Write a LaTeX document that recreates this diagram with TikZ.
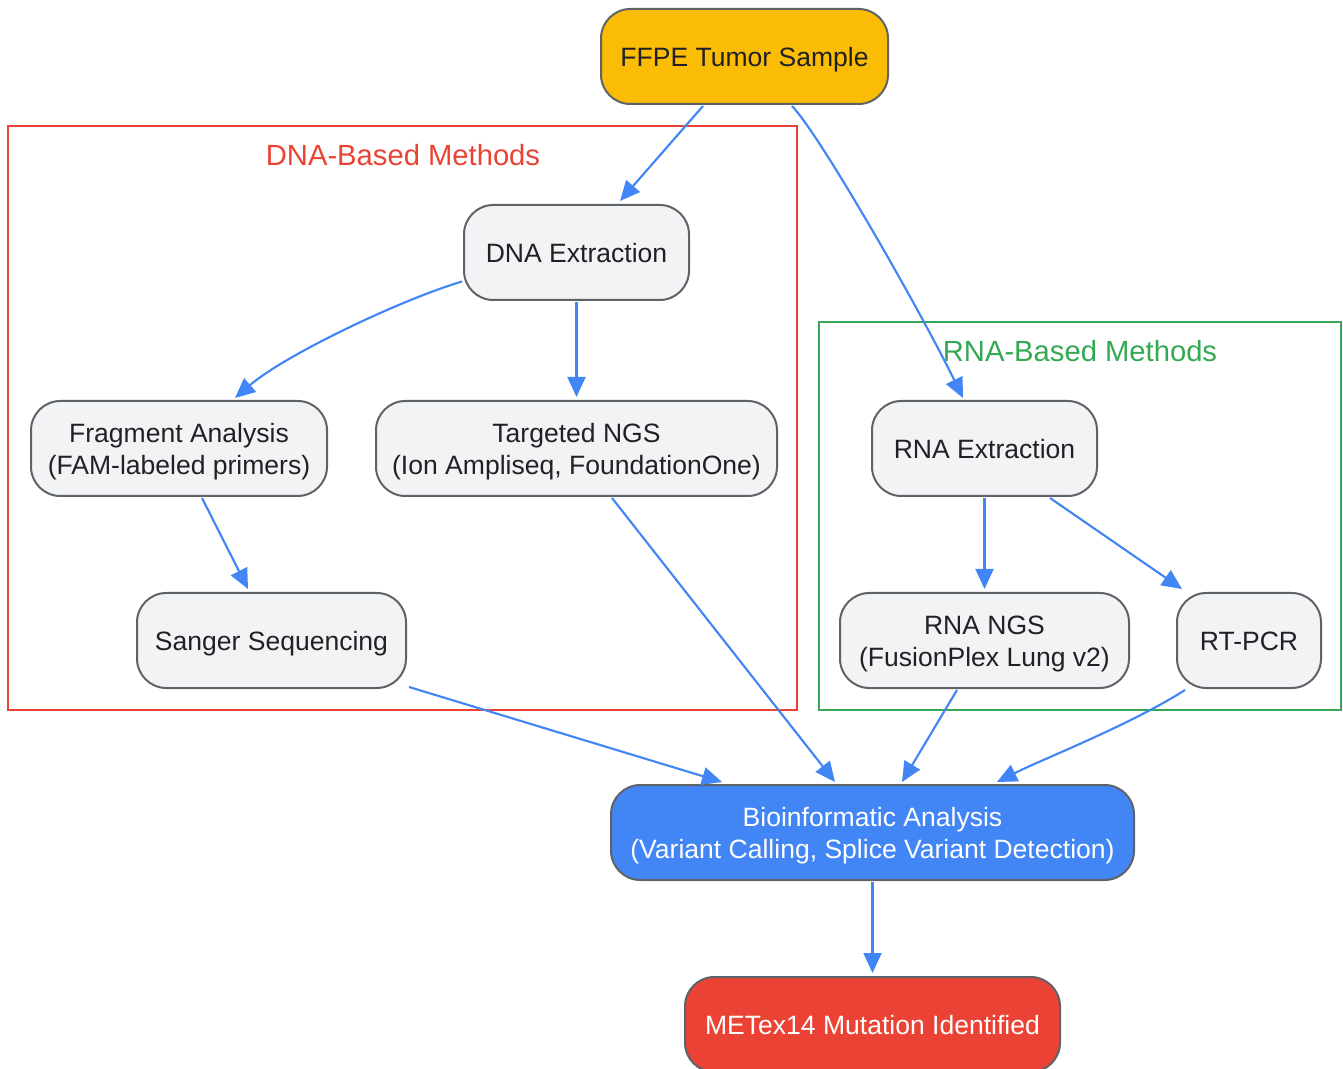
\documentclass[tikz,border=0pt]{standalone}
\usepackage{fontspec}
\setmainfont{Liberation Sans}
\usetikzlibrary{arrows.meta,calc}
\definecolor{nodefill}{HTML}{F1F3F4}
\definecolor{nodeborder}{HTML}{5F6368}
\definecolor{txt}{HTML}{202124}
\definecolor{gblue}{HTML}{4285F4}
\definecolor{gred}{HTML}{EA4335}
\definecolor{ggreen}{HTML}{34A853}
\definecolor{gyellow}{HTML}{FBBC05}
\newcommand\boxstrut{\rule[-4.2pt]{0pt}{23.2pt}}
\newcommand\twoline[2]{\raisebox{0pt}[15pt][28.7pt]{\begin{tabular}[t]{@{}c@{}}#1\\#2\end{tabular}}}
\tikzset{
  box/.style={draw=nodeborder, line width=1.5pt, fill=nodefill, rounded corners=22pt,
    minimum height=71.25pt, align=center, text=txt, inner sep=0pt,
    font=\fontsize{19.9}{24}\selectfont, execute at begin node=\boxstrut},
  box2/.style={box, execute at begin node={}},
  cluster/.style={line width=1.5pt},
  clabel/.style={font=\fontsize{21.9}{26}\selectfont, inner sep=0pt},
  edge/.style={draw=gblue, line width=1.6pt, -{Triangle[length=15pt,width=13.5pt]}}
}
\begin{document}
\begin{tikzpicture}[x=0.75pt,y=-0.75pt]
\useasboundingbox (0,0) rectangle (1343,1069);
% clusters
\draw[cluster, draw=gred] (8,126) rectangle (797,710);
\node[clabel, text=gred] (dnalab) at (403,155) {DNA-Based Methods};
\draw[cluster, draw=ggreen] (819,322) rectangle (1341,710);
\node[clabel, text=ggreen] (rnalab) at (1080,351) {RNA-Based Methods};
% nodes
\node[box, fill=gyellow, minimum width=215.25pt] (ffpe) at (744.5,56.5) {FFPE Tumor Sample};
\node[box, minimum width=168.75pt] (dnaext) at (576.5,252.5) {DNA Extraction};
\node[box2, minimum width=222pt] (frag) at (179,448.5) {\twoline{Fragment Analysis}{(FAM-labeled primers)}};
\node[box2, minimum width=300.75pt] (tngs) at (576.5,448.5) {\twoline{Targeted NGS}{(Ion Ampliseq, FoundationOne)}};
\node[box, minimum width=201.75pt] (sanger) at (271.5,640.5) {Sanger Sequencing};
\node[box, minimum width=168.75pt] (rnaext) at (984.5,448.5) {RNA Extraction};
\node[box2, minimum width=216.75pt] (rngs) at (984.5,640.5) {\twoline{RNA NGS}{(FusionPlex Lung v2)}};
\node[box, minimum width=108pt] (rtpcr) at (1249,640.5) {RT-PCR};
\node[box2, fill=gblue, text=white, minimum width=392.25pt] (bio) at (872.5,832.5) {\twoline{Bioinformatic Analysis}{(Variant Calling, Splice Variant Detection)}};
\node[box, fill=gred, text=white, minimum width=281.25pt] (met) at (872.5,1024.5) {METex14 Mutation Identified};
% edges
\draw[edge] ($(ffpe.south)+(-41.5,1)$) -- ($(dnaext.north)+(43.5,-3)$);
\draw[edge] ($(ffpe.south)+(47.5,1)$) .. controls (820,135) and (920,310) .. ($(rnaext.north)+(-21.5,-2)$);
\draw[edge] ($(dnaext.west)+(-1,29)$) .. controls (400,300) and (285,355) .. ($(frag.north)+(56,-2)$);
\draw[edge] ($(dnaext.south)+(0,1)$) -- ($(tngs.north)+(0,-3)$);
\draw[edge] ($(frag.south)+(23,1)$) -- ($(sanger.north)+(-23.5,-3)$);
\draw[edge] ($(tngs.south)+(35.5,1)$) -- ($(bio.north)+(-37.5,-2)$);
\draw[edge] ($(sanger.south east)+(2,-2)$) -- ($(bio.north)+(-150.5,-2)$);
\draw[edge] ($(rnaext.south)+(0,1)$) -- ($(rngs.north)+(0,-3)$);
\draw[edge] ($(rnaext.south)+(65.5,1)$) -- ($(rtpcr.north)+(-67,-3)$);
\draw[edge] ($(rngs.south)+(-27.5,1)$) -- ($(bio.north)+(29.5,-2)$);
\draw[edge] ($(rtpcr.south)+(-64,1)$) .. controls (1130,725) and (1045,758) .. ($(bio.north)+(124.5,-2)$);
\draw[edge] ($(bio.south)+(0,1)$) -- ($(met.north)+(0,-3)$);
\end{tikzpicture}
\end{document}
